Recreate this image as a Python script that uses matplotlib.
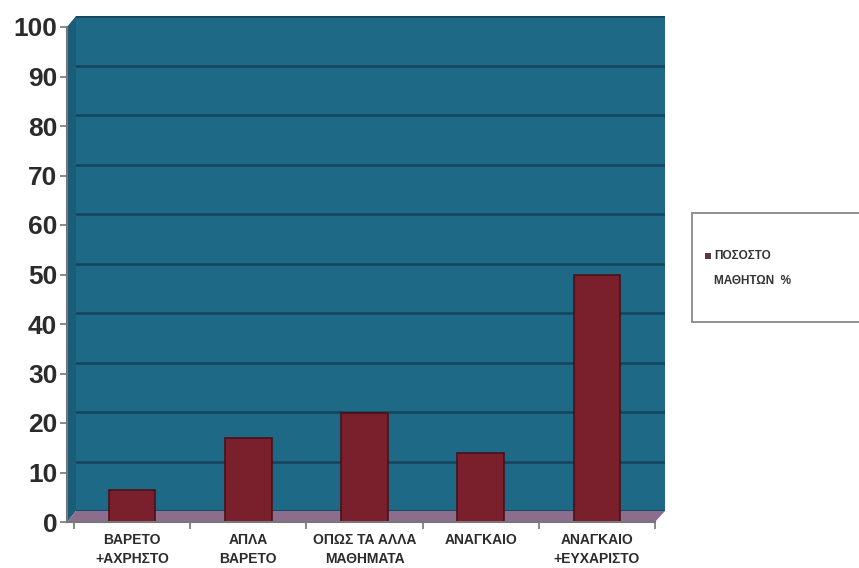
import numpy as np
import matplotlib.pyplot as plt
from matplotlib.patches import Polygon, Rectangle

# Δεδομένα γραφήματος
kategories = ['ΒΑΡΕΤΟ\n+ΑΧΡΗΣΤΟ', 'ΑΠΛΑ\nΒΑΡΕΤΟ', 'ΟΠΩΣ ΤΑ ΑΛΛΑ\nΜΑΘΗΜΑΤΑ',
              'ΑΝΑΓΚΑΙΟ', 'ΑΝΑΓΚΑΙΟ\n+ΕΥΧΑΡΙΣΤΟ']
pososto = [6.5, 17, 22, 14, 50]
y_ticks = list(range(0, 101, 10))
seira = 'ΠΟΣΟΣΤΟ\nΜΑΘΗΤΩΝ  %'

W, H = 859, 568
plt.rcParams['font.family'] = ['Liberation Sans', 'DejaVu Sans']

fig = plt.figure(figsize=(W / 100, H / 100), dpi=100)
fig.patch.set_facecolor('white')

def px(x0, y0, x1, y1):
    # μετατροπή pixel (πάνω-αριστερά αρχή) σε συντεταγμένες figure
    return [x0 / W, 1 - y1 / H, (x1 - x0) / W, (y1 - y0) / H]

def pt(x, y):
    return (x / W, 1 - y / H)

mple = '#1e6a86'
grammes = '#14445b'
kokkino = '#7a1f2c'
patoma = '#8c6d8e'

# Πίσω τοίχος με γραμμές πλέγματος
ax_back = fig.add_axes(px(76, 16, 665, 511), zorder=0)
ax_back.set_facecolor(mple)
ax_back.set_ylim(0, 100)
ax_back.set_yticks(y_ticks)
ax_back.set_xticks([])
ax_back.tick_params(left=False, labelleft=False)
ax_back.grid(axis='y', color=grammes, linewidth=1.8)
for s in ax_back.spines.values():
    s.set_visible(False)

# Πλαϊνός τοίχος και δάπεδο
fig.patches.append(Polygon([pt(67, 522), pt(67, 27), pt(76, 16), pt(76, 511)],
                           closed=True, facecolor='#1a5d79', edgecolor='none',
                           transform=fig.transFigure, zorder=1))
fig.patches.append(Polygon([pt(67, 522), pt(655, 522), pt(665, 511), pt(76, 511)],
                           closed=True, facecolor=patoma, edgecolor='none',
                           transform=fig.transFigure, zorder=1))

# Μπροστινό επίπεδο: άξονες και ράβδοι
ax = fig.add_axes(px(67, 27, 655, 522), zorder=2)
ax.patch.set_alpha(0)
x = np.arange(len(kategories))
ax.bar(x, pososto, width=0.40, color=kokkino, edgecolor='#4a1018', linewidth=1.2)
ax.set_xlim(-0.56, len(kategories) - 0.56)
ax.set_ylim(0, 100)
ax.set_yticks(y_ticks)
ax.set_yticklabels([str(v) for v in y_ticks], fontsize=19, fontweight='bold',
                   color='#2b2b2b')
ax.set_xticks(x)
ax.set_xticklabels(kategories, fontsize=10, fontweight='bold', color='#2b2b2b',
                   linespacing=1.45)
ax.set_xticks(np.arange(len(kategories) + 1) - 0.5, minor=True)
ax.tick_params(axis='y', length=5, width=1.2, color='#777777', pad=2)
ax.tick_params(axis='x', which='major', length=0, pad=8)
ax.tick_params(axis='x', which='minor', length=5, width=1.2, color='#777777')
for s in ['top', 'right']:
    ax.spines[s].set_visible(False)
ax.spines['left'].set_color('#777777')
ax.spines['left'].set_linewidth(1.5)
ax.spines['bottom'].set_color('#777777')
ax.spines['bottom'].set_linewidth(1.5)

# Υπόμνημα
fig.patches.append(Rectangle(pt(692, 322), 175 / W, 109 / H, facecolor='white',
                             edgecolor='#888888', linewidth=1.3,
                             transform=fig.transFigure, zorder=3))
fig.patches.append(Rectangle(pt(705, 259), 6 / W, 6 / H, facecolor='#5a3a40',
                             edgecolor='none', transform=fig.transFigure, zorder=4))
fig.text(714 / W, 1 - 250 / H, seira, fontsize=8.5, fontweight='bold', color='#333333',
         va='top', ha='left', linespacing=2.5, zorder=5)

plt.savefig('out.png', dpi=100)
